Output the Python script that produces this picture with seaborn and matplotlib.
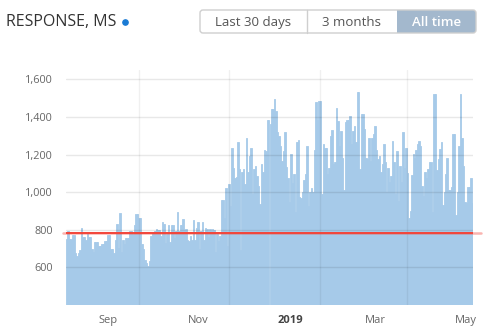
import numpy as np
import pandas as pd
import matplotlib
matplotlib.use("Agg")
import matplotlib.pyplot as plt
import matplotlib.dates as mdates
import matplotlib.transforms as mtransforms
from matplotlib.patches import FancyBboxPatch, Rectangle
from matplotlib.lines import Line2D
from matplotlib.ticker import FuncFormatter
import seaborn as sns

# ---------------- data ----------------
title = "RESPONSE, MS"
buttons = ["Last 30 days", "3 months", "All time"]
start_date = "2018-08-13"
response_ms = [
    750, 793, 750, 750, 770, 770, 675, 660, 678, 692,
    812, 760, 760, 745, 780, 760, 760, 700, 683, 733,
    733, 736, 713, 713, 724, 724, 738, 738, 770, 770,
    700, 700, 675, 748, 833, 705, 892, 681, 745, 727,
    756, 756, 756, 791, 791, 777, 828, 883, 883, 865,
    865,
    724, 697, 639, 625, 607, 634, 766, 784, 788, 795,
    802, 798, 798, 766, 844, 830, 731, 780, 825, 736,
    825, 826, 756, 795, 893, 795, 825, 825, 858, 798,
    802, 745, 741, 766, 745, 851, 745, 808, 844, 699,
    791, 844, 745, 812, 805, 760, 802, 795, 802, 798,
    681, 777, 738, 766, 958, 961, 862, 1025, 713, 1046,
    926, 1237, 1131, 1078, 1081, 1269, 1124, 692, 1110, 1124,
    1046, 1287, 1110, 1195, 1237, 993, 1124, 1138, 1088, 1035,
    936, 1152, 1110, 1227, 1220, 1386, 1386,
    1365, 1444, 1444, 1497, 1430, 1319, 1301, 1244, 1166, 1220,
    1322, 1135, 1078, 947, 1202, 1050, 1096, 894, 1266, 1276,
    975, 968, 1000, 1064, 1096, 1248, 926, 1000, 1025, 1000,
    1227, 1481, 1382, 1485, 1485, 993, 1258, 1237, 1237, 1099,
    1127, 1301, 1329, 1152, 1159, 1450, 1379, 1244, 1326, 1180,
    1014, 1372, 1382, 1386, 1404, 1258, 1326, 1354, 1266, 1535,
    1535, 1124, 1414, 1414, 1336, 1180, 1177, 1290, 1166, 1287,
    1308, 1350, 1227, 1177, 1195, 1106, 1152, 1258, 1159, 1000,
    1131, 1053, 1088, 1273, 1159, 993, 1220, 954, 1138, 1053,
    1319, 1127, 1237, 1103, 865, 901, 1092, 1202, 1184, 1227,
    1258, 1273, 1244, 1035, 982, 1110, 1078, 1124, 1159, 1159,
    897, 1520, 1520, 1117, 1177, 1230, 1266, 934, 1000, 1099,
    1184, 1011, 1011, 1028, 1311, 1311, 880, 1000, 1244, 1520,
    1290, 1141, 950, 940, 1028, 1028, 1074, 940,
]
threshold_ms = 785
y_ticks = [600, 800, 1000, 1200, 1400, 1600]
y_limits = [400, 1650]
month_labels = ["Sep", "Nov", "2019", "Mar", "May"]
month_label_dates = ["2018-09-01", "2018-11-01", "2019-01-01", "2019-03-01", "2019-05-01"]
grid_dates = ["2018-10-01", "2018-12-01", "2019-02-01", "2019-04-01"]

# ---------------- style ----------------
sns.set_theme(style="white")
plt.rcParams["font.family"] = ["Open Sans", "DejaVu Sans"]

W, H = 483, 335
fig = plt.figure(figsize=(W / 100, H / 100), dpi=100)
fig.patch.set_facecolor("white")

bar_color = "#a6cae9"
dates = pd.date_range(start_date, periods=len(response_ms), freq="D")
df = pd.DataFrame({"x": mdates.date2num(dates), "ms": response_ms})

ax = fig.add_axes([66 / W, 1 - 305 / H, (473 - 66) / W, (305 - 70) / H])
sns.barplot(data=df, x="x", y="ms", native_scale=True, orient="x", width=1.0,
            color=bar_color, saturation=1, linewidth=0.6, edgecolor=bar_color,
            errorbar=None, ax=ax)

ax.set_xlim(df["x"].iloc[0] - 0.5, df["x"].iloc[-1] + 0.5)
ax.set_ylim(*y_limits)
ax.set_xlabel("")
ax.set_ylabel("")
sns.despine(ax=ax, left=True, bottom=True)

# y axis
ax.set_yticks(y_ticks)
ax.yaxis.set_major_formatter(FuncFormatter(lambda v, p: f"{v:,.0f}"))
ax.tick_params(axis="y", length=0, pad=9.5, labelsize=7.8, labelcolor="#666666")
ax.yaxis.grid(True, color="black", alpha=0.09, linewidth=1)

# x axis: grid at minor ticks, labels as text
ax.set_xticks([])
ax.set_xticks(mdates.date2num(pd.to_datetime(grid_dates)), minor=True)
ax.tick_params(axis="x", which="both", length=0, labelbottom=False)
ax.xaxis.grid(True, which="minor", color="black", alpha=0.06, linewidth=1)
ax.set_axisbelow(False)

# overlay in pixel coordinates
ov = fig.add_axes([0, 0, 1, 1])
ov.set_xlim(0, W)
ov.set_ylim(H, 0)
ov.axis("off")
ov.patch.set_visible(False)

clip_rect = Rectangle((0, 0), 473.5, H, transform=ov.transData)
trans = mtransforms.blended_transform_factory(ax.transData, ax.transAxes)
for lab, d in zip(month_labels, month_label_dates):
    xd = mdates.date2num(pd.Timestamp(d)) + 2.2
    bold = lab == "2019"
    t = ax.text(xd, -0.042, lab, transform=trans, ha="left", va="top",
                fontsize=8, color="#444444" if bold else "#666666",
                fontweight="bold" if bold else "normal")
    t.set_clip_path(clip_rect)

# threshold line
ax.axhline(threshold_ms, xmin=-0.008, xmax=1.02, color="#f2453a", alpha=0.4,
           linewidth=1.8, clip_on=False, zorder=4)
ax.axhline(threshold_ms, color="#f2453a", linewidth=1.4, zorder=5)

# title + dot
ov.text(6, 22.5, title, fontsize=11.5, color="#333333", ha="left", va="center")
ov.add_line(Line2D([125], [22.3], marker="o", markersize=3.8, color="#1a7ad4", linestyle="none"))

# buttons
bx0, bx1, by0, by1 = 200, 476, 10, 33
div1, div2 = 307, 397
ov.add_patch(FancyBboxPatch((div2, by0), bx1 - div2, by1 - by0,
                            boxstyle="round,pad=0,rounding_size=3",
                            facecolor="#a3b8cd", edgecolor="none", zorder=2))
ov.add_patch(Rectangle((div2, by0), 6, by1 - by0, facecolor="#a3b8cd",
                       edgecolor="none", zorder=2))
ov.add_patch(FancyBboxPatch((bx0, by0), bx1 - bx0, by1 - by0,
                            boxstyle="round,pad=0,rounding_size=3",
                            facecolor="none", edgecolor="#cfcfcf", linewidth=1, zorder=3))
ov.add_line(Line2D([div1, div1], [by0, by1], color="#cfcfcf", linewidth=1, zorder=3))
centers = [(bx0 + div1) / 2, (div1 + div2) / 2, (div2 + bx1) / 2]
for i, (lab, cx) in enumerate(zip(buttons, centers)):
    active = i == len(buttons) - 1
    ov.text(cx, 22.5, lab, fontsize=9.5, ha="center", va="center",
            color="white" if active else "#555555",
            fontweight="semibold" if active else "normal", zorder=4)

fig.savefig("out.png", dpi=100, facecolor="white")
